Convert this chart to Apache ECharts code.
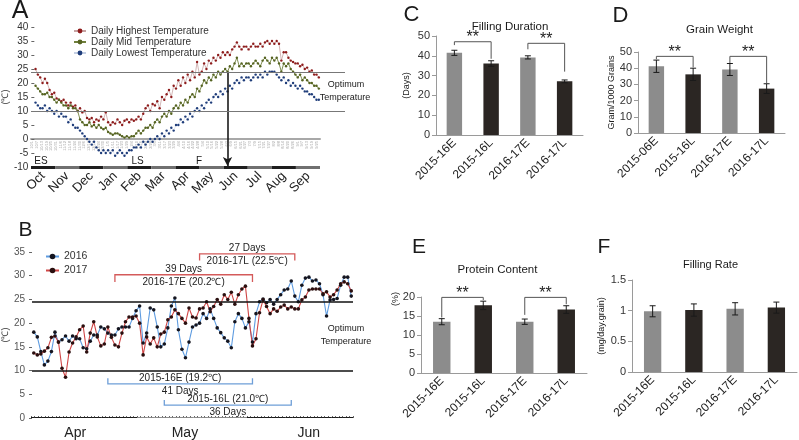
<!DOCTYPE html>
<html><head><meta charset="utf-8">
<script src="https://cdn.jsdelivr.net/npm/echarts/dist/echarts.min.js"></script>
<style>html,body{margin:0;padding:0;background:#fff;}#c{width:799px;height:440px;}</style>
</head><body><div id="c"></div>
<script>
// ---------------- Panel A data ----------------
const aMonths = ['Oct','Nov','Dec','Jan','Feb','Mar','Apr','May','Jun','Jul','Aug','Sep'];
const aHigh = [25,23,22,20,21.5,20,17.5,16,16.5,14.5,14,
 13.5,14,13,12,13,11.5,12,10,11,9.5,
 10,7.5,7,7.5,6,7,6.5,8,7,9.5,
 6,5,6,5.5,7,6,5,6.5,7,6,
 7,6.5,7,8,7,9,11,12,10,12.5,
 12,13.5,11,15,14,16,17.5,15,19,18,
 21,19,22,20,23,21,24,22,27.5,23,
 24,27,25,28,27,29,28,30,29,31,
 30,31,30,32,33,34.5,33,32,33,33,
 32,33,34,33,33,34,33,34.5,35,34,35,
 34,35,34,28,31,31,29,28,27.5,27,
 27,26,26.5,25,25.5,24,24.5,23,23,22];
const aMid = [19,18,17,16,16,16.5,15,15,14,13,14,
 13,12,12,11,12,11,11,10,7,6,
 5,5,6,4.5,5,4,5,4,3.5,4,
 2.5,2,1.5,2,2,1.5,1,0.5,1,0.5,
 1,1,2,3,2,3,4,4,5,4,
 6,7,6,8,9,8,10,9,11,12,
 11,13,12,14,13,15,16,15,18,17,
 19,21,20,22,21,23,22,24,23,24,
 25,24,26,25,27,29,26,27,26,27,
 27,26,27,28,27,26,28,29,28,27,29,
 28,29,27,24,27,26,27,25,24,23,
 22,23,21,22,21,20,20,19,19,18];
const aLow = [13,12,11,11,12,10,11,10,9,10,8,
 9,8,8,6,7,5,4,4,3,2,
 1,0,-1,-2,-1,-3,-4,-5,-4,-5,
 -4,-5,-4,-6,-5,-4,-5,-6,-5,-4,
 -4,-3,-3,-2,-3,-1,-2,-1,0,-1,
 0,1,0,2,1,3,2,4,3,5,
 5,7,6,8,7,9,8,10,11,10,
 12,11,13,14,13,15,16,15,17,16,
 18,17,19,18,20,21,20,22,21,22,
 22,21,22,23,22,23,22,24,23,24,24,
 24,23,22,21,22,20,21,19,20,19,
 18,19,18,17,17,16,16,15,14,14];
const aOptimum = [24, 10];
const aArrowIndex = 82;        // point index where the arrow is drawn
const aArrowFrom = 24, aArrowTo = -9.6;
const aStepDays = 3;

// ---------------- Panel B data ----------------
const bMonthLabelAt = {12:'Apr', 43:'May', 78:'Jun'};
const b2016 = [18.1,17.1,14,11.2,12,14,18.1,16,16.5,17.3,16.2,17.3,16.7,16.7,14.8,14.6,16.2,17.5,17.5,19.2,
 18.8,17.9,17.5,17.5,18.8,19.2,19.2,19.2,21,22.6,23.6,15.8,17.9,23.2,22.8,19.2,15,15.6,19,23.6,
 25.3,18.6,14.5,12.7,16,19.2,19.6,20,22,21,23,21,19,18,16.9,16.2,14.8,20.3,22,21,
 19,20.3,16,22,24.5,25.1,24.3,25,24,25,26,27,27.2,28.9,25.7,24.5,28,29.5,29.7,28.9,
 29.1,28.3,26,21.5,24.9,25,25.2,28,29.7,29.7,25.7];
const b2017 = [13.7,13.3,13.5,14.1,14.8,17,17.3,16,10.5,8.6,13.9,15.8,17.1,18.6,19.4,13.9,17.9,20.3,17.1,15.2,
 15.6,19.2,17,15.4,15,17.9,20.3,21.3,21.3,21.5,20,13.3,17.1,15.6,16.9,15,17.7,18.1,20.7,21.3,
 22.8,22,21,20,23.2,21.3,21.1,23,23.2,24.5,22.4,23.5,25,24,26,25,26.5,24,26,27.2,
 27.8,21,15.2,16.7,22.2,24.9,23.5,22,23,22.5,23.4,23.8,23,23.4,23,23,24.9,25.5,27,27.2,
 27.2,27.2,26.2,26.6,25.5,26,27,28.3,28.7,28.3,26.8];
const bOptimum = [24.5, 10];
// [startDay, endDay, lineValue, legEndValue]
const bBrackets = [[23,62,30.2,28.7],[47,74,34.6,33.2],[21,62,7.2,8.4],[37,73,2.7,3.8]];
const bBracketAbove = ['39 Days','27 Days','2015-16E (19.2\u2103)','2015-16L (21.0\u2103)'];
const bBracketBelow = ['2016-17E (20.2\u2103)','2016-17L (22.5\u2103)','41 Days','36 Days'];
const bBracketYear = ['2017','2017','2016','2016'];

// ---------------- Panels C-F data ----------------
const cCats = ['2015-16E','2015-16L','2016-17E','2016-17L'];
const dCats = ['2015-06E','2015-16L','2016-17E','2016-17L'];
const cVals = [41.5,36.1,39.2,27.1], cErr = [1.3,1.4,0.8,0.7];
const dVals = [41.2,36.2,39.2,27.4], dErr = [3.8,3.8,3.7,3.0];
const eVals = [13.5,17.8,13.5,16.7], eErr = [0.8,1.1,0.7,1.0];
const fVals = [0.99,1.01,1.03,1.05], fErr = [0.09,0.1,0.1,0.09];
// [i1, i2, leftLegEnd, topValue, rightLegEnd]
const cBr = [[0,1,45.4,47.1,38.5],[2,3,43.3,46.3,32]];
const dBr = [[0,1,45.5,47.3,40.5],[2,3,43.2,47.3,30.7]];
const eBr = [[0,1,14.6,19.9,19.2],[2,3,15.3,19.9,18.1]];

// ---------------- helpers ----------------
const FF = "'Liberation Sans', Arial, sans-serif";
function dayLabels(y, m, d, n, step){
  const out=[]; const t0=Date.UTC(y,m,d);
  for(let i=0;i<n;i++){const t=new Date(t0+i*step*86400000); out.push((t.getUTCMonth()+1)+'/'+t.getUTCDate());}
  return out;
}
const aDates = dayLabels(2015,9,1,aHigh.length,aStepDays);
const bDates = dayLabels(2017,3,1,b2016.length,1);
const bMonthIdx = bDates.map(s=>parseInt(s)); // 4,5,6

const GRAY='#8c8c8c', DARK='#2b2623';

function errRender(params, api){
  const x=api.value(0), lo=api.value(1), hi=api.value(2);
  const p1=api.coord([x,hi]), p2=api.coord([x,lo]); const w=3;
  const st={stroke:'#1a1a1a', lineWidth:1};
  return {type:'group', children:[
    {type:'line', shape:{x1:p1[0],y1:p1[1],x2:p2[0],y2:p2[1]}, style:st},
    {type:'line', shape:{x1:p1[0]-w,y1:p1[1],x2:p1[0]+w,y2:p1[1]}, style:st},
    {type:'line', shape:{x1:p2[0]-w,y1:p2[1],x2:p2[0]+w,y2:p2[1]}, style:st}]};
}
function brRender(params, api){
  const i1=api.value(0), i2=api.value(1), yl=api.value(2), yt=api.value(3), yr=api.value(4);
  const a=api.coord([i1,yl]), b=api.coord([i1,yt]), c=api.coord([i2,yt]), d=api.coord([i2,yr]);
  return {type:'group', children:[
    {type:'polyline', shape:{points:[a,b,c,d]}, style:{stroke:'#555', fill:null, lineWidth:1}},
    {type:'text', x:(b[0]+c[0])/2, y:b[1]+4, style:{text:'**', fill:'#222', font:'16px '+FF, textAlign:'center', textVerticalAlign:'bottom', align:'center', verticalAlign:'bottom'}}]};
}
function bBrRender(params, api){
  const i=params.dataIndex;
  const x1=api.value(0), x2=api.value(1), yv=api.value(2), yl=api.value(3);
  const a=api.coord([x1,yl]), b=api.coord([x1,yv]), c=api.coord([x2,yv]), d=api.coord([x2,yl]);
  const col = bBracketYear[i]==='2017' ? '#d45a5a' : '#6f9fd8';
  const mx=(b[0]+c[0])/2;
  const ts={fill:'#222', font:'10px '+FF, textAlign:'center', align:'center', textVerticalAlign:'middle', verticalAlign:'middle'};
  return {type:'group', children:[
    {type:'polyline', shape:{points:[a,b,c,d]}, style:{stroke:col, fill:null, lineWidth:1.3}},
    {type:'text', x:mx, y:b[1]-6, style:Object.assign({text:bBracketAbove[i]},ts)},
    {type:'text', x:mx, y:b[1]+7, style:Object.assign({text:bBracketBelow[i]},ts)}]};
}

// ---------------- grids ----------------
const grids = [
  {left:31, top:27, width:289, height:140},   // 0 A main
  {left:31, top:27, width:314, height:140},   // 1 A reference lines
  {left:31, top:166, width:289, height:3},    // 2 A month band
  {left:31, top:252, width:322, height:166},  // 3 B main
  {left:31, top:417, width:322, height:2.5},  // 4 B month band
  {left:436, top:36, width:147, height:99},   // 5 C
  {left:638, top:52, width:147, height:81},   // 6 D
  {left:421, top:297, width:166, height:76},  // 7 E
  {left:632, top:280, width:165, height:92},  // 8 F
  {left:31, top:27, width:289, height:112}    // 9 A zero-line date axis (ends at value 0)
].map(g=>Object.assign({containLabel:false, show:false}, g));

const axLbl = {color:'#333', fontFamily:FF};
const xAxes = [
  {gridIndex:0, type:'category', data:aDates, axisLine:{show:false}, axisTick:{show:false}, axisLabel:{show:false}},
  {gridIndex:1, type:'value', min:0, max:1, show:false},
  {gridIndex:2, type:'category', data:aMonths, axisLine:{show:false}, axisTick:{show:false},
   axisLabel:Object.assign({rotate:45, fontSize:13, margin:5, color:'#222'}, {fontFamily:FF})},
  {gridIndex:3, type:'category', data:bDates, axisLine:{show:false}, axisTick:{show:false}, axisLabel:{show:false}},
  {gridIndex:4, type:'category', data:bDates, axisLine:{show:false},
   axisTick:{show:true, interval:0, length:2, inside:true, lineStyle:{color:'#666'}},
   axisLabel:{interval:0, fontSize:14, margin:8, color:'#222', fontFamily:FF, formatter:(v,i)=>bMonthLabelAt[i]||''}},
];
const barX = (gi, cats)=>({gridIndex:gi, type:'category', data:cats,
   axisLine:{lineStyle:{color:'#9a9a9a'}}, axisTick:{lineStyle:{color:'#9a9a9a'}, length:4},
   axisLabel:{rotate:45, fontSize:12, margin:6, color:'#222', fontFamily:FF, interval:0}});
xAxes.push(barX(5,cCats), barX(6,dCats), barX(7,cCats), barX(8,cCats));
xAxes.push({gridIndex:9, type:'category', data:aDates, axisLine:{show:true, lineStyle:{color:'#a8a8a8', width:2}},
   axisTick:{show:false}, axisLabel:{interval:1, rotate:90, fontSize:4, color:'#a6a6a6', margin:2, fontFamily:FF}});

const yAxes = [
  {gridIndex:0, type:'value', min:-10, max:40, interval:5, splitLine:{show:false}, axisLine:{show:false},
   axisTick:{show:true, length:3, lineStyle:{color:'#666'}}, axisLabel:Object.assign({fontSize:10, margin:6},axLbl),
   name:'(\u2103)', nameLocation:'middle', nameRotate:90, nameGap:19, nameTextStyle:{fontSize:9, color:'#333', fontFamily:FF}},
  {gridIndex:1, type:'value', min:-10, max:40, show:false},
  {gridIndex:2, type:'value', min:0, max:1, show:false},
  {gridIndex:3, type:'value', min:0, max:35, interval:5, splitLine:{show:false}, axisLine:{show:false},
   axisTick:{show:true, length:3, lineStyle:{color:'#666'}}, axisLabel:{fontSize:10, margin:7, color:'#555', fontFamily:FF},
   name:'(\u2103)', nameLocation:'middle', nameRotate:90, nameGap:21, nameTextStyle:{fontSize:9, color:'#333', fontFamily:FF}},
  {gridIndex:4, type:'value', min:0, max:1, show:false},
];
const barY = (gi, max, itv, name, gap)=>({gridIndex:gi, type:'value', min:0, max:max, interval:itv, splitLine:{show:false},
   axisLine:{show:true, lineStyle:{color:'#9a9a9a'}}, axisTick:{show:true, length:4, lineStyle:{color:'#9a9a9a'}},
   axisLabel:Object.assign({fontSize:11, margin:6},axLbl),
   name:name, nameLocation:'middle', nameRotate:90, nameGap:gap, nameTextStyle:{fontSize:9, color:'#222', fontFamily:FF}});
yAxes.push(barY(5,50,10,'(Days)',25), barY(6,50,10,'Gram/1000 Grains',22), barY(7,20,5,'',20), barY(8,1.5,0.5,'(mg/day.grain)',26));
yAxes.push({gridIndex:9, type:'value', min:0, max:40, show:false});

const series = [
  {name:'Daily Highest Temperature', type:'line', xAxisIndex:0, yAxisIndex:0, data:aHigh, symbol:'circle', symbolSize:2.4, showAllSymbol:true,
   itemStyle:{color:'#8e1c1c'}, lineStyle:{color:'#c7a3a3', width:0.8}, animation:false},
  {name:'Daily Mid Temperature', type:'line', xAxisIndex:0, yAxisIndex:0, data:aMid, symbol:'circle', symbolSize:2.4, showAllSymbol:true,
   itemStyle:{color:'#556321'}, lineStyle:{color:'#71803d', width:0.9}, animation:false,
   markLine:{silent:true, symbol:['none','arrow'], symbolSize:[7,9], label:{show:false},
     lineStyle:{color:'#1a1a1a', width:1.6, type:'solid'},
     data:[[{coord:[aArrowIndex, aArrowFrom]},{coord:[aArrowIndex, aArrowTo]}]]}},
  {name:'Daily Lowest Temperature', type:'line', xAxisIndex:0, yAxisIndex:0, data:aLow, symbol:'circle', symbolSize:2.4, showAllSymbol:true,
   itemStyle:{color:'#1f3d7a'}, lineStyle:{color:'#c4cfe3', width:0.5}, animation:false},
  {type:'line', xAxisIndex:1, yAxisIndex:1, data:[], animation:false,
   markLine:{silent:true, symbol:'none', label:{show:false}, lineStyle:{color:'#777', width:1.2, type:'solid'},
     data:aOptimum.map(v=>({yAxis:v}))}},
  {type:'bar', xAxisIndex:2, yAxisIndex:2, data:aMonths.map(()=>1), barWidth:'100%', barGap:0, animation:false,
   itemStyle:{color:p=>p.dataIndex%2===0?'#1e1e1e':'#707070'}, silent:true},
  {name:'2016', type:'line', xAxisIndex:3, yAxisIndex:3, data:b2016, symbol:'circle', symbolSize:3.6, showAllSymbol:true,
   itemStyle:{color:'#15151f'}, lineStyle:{color:'#5d9be0', width:1.1}, animation:false,
   markLine:{silent:true, symbol:'none', label:{show:false}, lineStyle:{color:'#111', width:1.5, type:'solid'},
     data:bOptimum.map(v=>({yAxis:v}))}},
  {name:'2017', type:'line', xAxisIndex:3, yAxisIndex:3, data:b2017, symbol:'circle', symbolSize:3.6, showAllSymbol:true,
   itemStyle:{color:'#2a0f0f'}, lineStyle:{color:'#cf4545', width:1.1}, animation:false},
  {type:'custom', xAxisIndex:3, yAxisIndex:3, renderItem:bBrRender, data:bBrackets, animation:false, silent:true},
  {type:'bar', xAxisIndex:4, yAxisIndex:4, data:bDates.map(()=>1), barWidth:'100%', barGap:0, animation:false, silent:true,
   itemStyle:{color:p=>bMonthIdx[p.dataIndex]===5?'#8a8a8a':'#1a1a1a'}},
  {type:'line', xAxisIndex:9, yAxisIndex:9, data:[], animation:false, silent:true},
];
function addBarPanel(gi, vals, errs, brs){
  series.push({type:'bar', xAxisIndex:gi, yAxisIndex:gi, data:vals, barWidth:'42%', animation:false,
    itemStyle:{color:p=>p.dataIndex%2===0?GRAY:DARK}});
  series.push({type:'custom', xAxisIndex:gi, yAxisIndex:gi, renderItem:errRender, animation:false, silent:true,
    data:vals.map((v,i)=>[i, v-errs[i], v+errs[i]]), z:5});
  if(brs) series.push({type:'custom', xAxisIndex:gi, yAxisIndex:gi, renderItem:brRender, data:brs, animation:false, silent:true, z:5});
}
addBarPanel(5, cVals, cErr, cBr);
addBarPanel(6, dVals, dErr, dBr);
addBarPanel(7, eVals, eErr, eBr);
addBarPanel(8, fVals, fErr, null);

function txt(t, x, y, size, opts){
  return Object.assign({type:'text', x:x, y:y, silent:true,
    style:{text:t, fill:'#1a1a1a', font:size+'px '+FF, textAlign:'center', textVerticalAlign:'middle', align:'center', verticalAlign:'middle'}}, opts||{});
}
const graphics = [
  txt('A',20,11,25), txt('B',25.5,230.5,21), txt('C',411.5,15,22), txt('D',620.5,16,22), txt('E',419,247.5,21), txt('F',604,247.5,21),
  txt('Filling Duration',510,27,11.5), txt('Grain Weight',719.5,30,11.5), txt('Protein Content',497.5,270,11.5), txt('Filling Rate',710.5,265,11),
  txt('Optimum',346,85,9), txt('Temperature',345,98,9),
  txt('Optimum',346,329,9), txt('Temperature',346,342,9),
  txt('ES',41,161.5,10), txt('LS',137.5,161.5,10), txt('F',199,161.5,10),
  txt('(%)',396,299,9,{rotation:Math.PI/2})
];

const chart = echarts.init(document.getElementById('c'));
chart.setOption({
  animation:false,
  backgroundColor:'#fff',
  textStyle:{fontFamily:FF},
  grid:grids, xAxis:xAxes, yAxis:yAxes, series:series,
  legend:[
    {data:['Daily Highest Temperature','Daily Mid Temperature','Daily Lowest Temperature'], orient:'vertical', left:68, top:21,
     itemWidth:12, itemHeight:6, itemGap:1, textStyle:{fontSize:10, color:'#333', fontFamily:FF}, selectedMode:false},
    {data:['2016','2017'], orient:'vertical', left:40, top:246, itemWidth:13, itemHeight:7, itemGap:3,
     textStyle:{fontSize:10.5, color:'#333', fontFamily:FF}, selectedMode:false}
  ],
  graphic:graphics
});
</script></body></html>
